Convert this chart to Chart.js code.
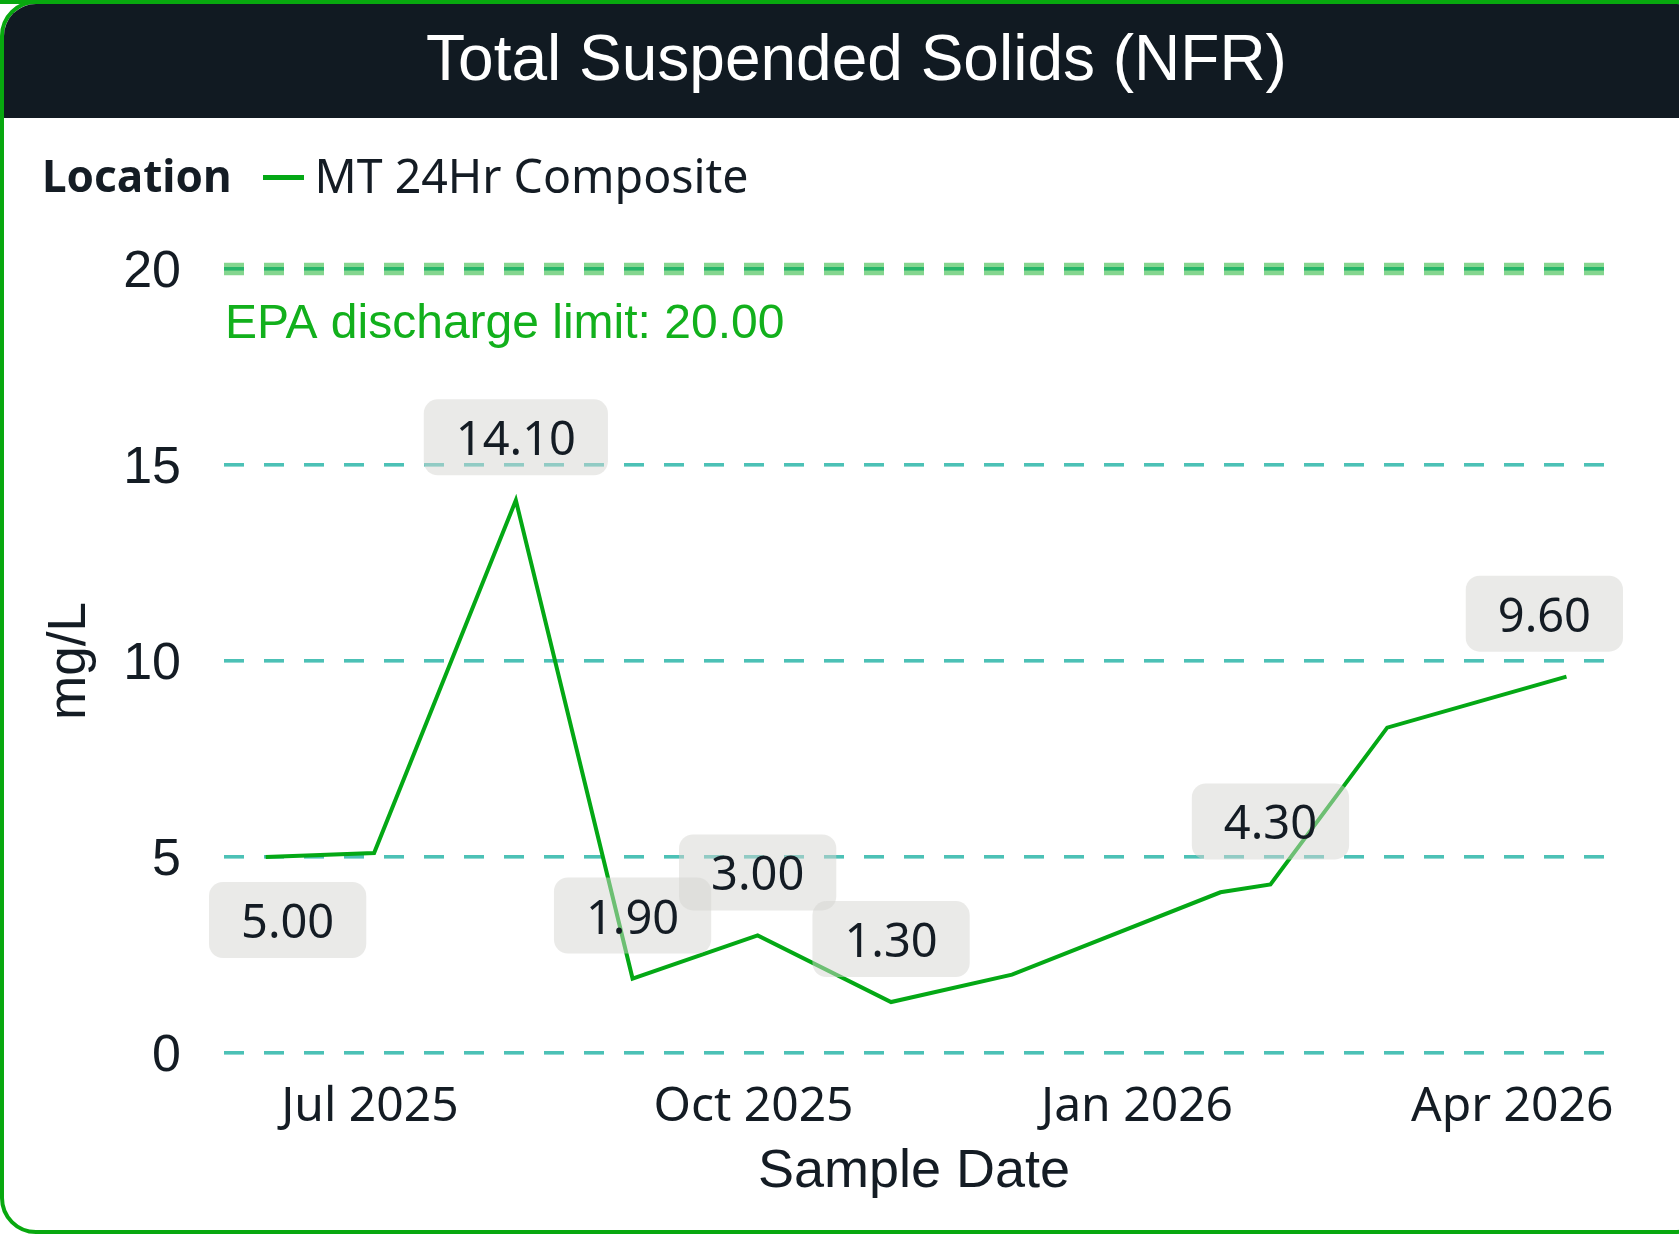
<!DOCTYPE html>
<html>
<head>
<meta charset="utf-8">
<script src="https://cdn.jsdelivr.net/npm/chart.js@4.4.1/dist/chart.umd.min.js"></script>
<style>
  html, body { margin: 0; padding: 0; background: #fff; width: 1679px; height: 1234px; overflow: hidden; }
  #card { position: absolute; left: 0; top: 0; width: 1713px; height: 1234px; box-sizing: border-box;
          border: 4px solid #08a80f; border-radius: 36px; overflow: hidden; background: #fff; }
  #topbar { position: absolute; left: 0; top: 0; width: 1679px; height: 4px; background: #08a80f; }
  #chartWrap { position: absolute; left: -4px; top: -4px; width: 1679px; height: 1234px; }
  #header { position: absolute; left: -4px; top: 0; width: 1713px; height: 114px; background: #111a22; color: #fff;
            font-family: "Liberation Sans", Arial, sans-serif; font-size: 64px; text-align: center; line-height: 108px; }
  #legend { position: absolute; left: 38px; top: 144px; height: 54px; display: flex; align-items: center;
            font-family: "Noto Sans", sans-serif; color: #141c24; font-size: 46.5px; }
  #legend .ttl { font-weight: bold; font-size: 44px; margin-right: 31px; }
  #legend .swatch { display: inline-block; width: 41px; height: 5px; margin-right: 11px; margin-top: 5px; }
</style>
</head>
<body>
<div id="card">
  <div id="chartWrap"><canvas id="c" width="1679" height="1234"></canvas></div>
  <div id="header">Total Suspended Solids (NFR)</div>
  <div id="legend"></div>
</div>
<div id="topbar"></div>
<script>
// ---- data ----
const chartTitle = 'Total Suspended Solids (NFR)';
const legendTitle = 'Location';
const seriesLabel = 'MT 24Hr Composite';
const sampleDates = ['2025-06-06', '2025-07-02', '2025-08-05', '2025-09-02', '2025-10-02', '2025-11-03',
                     '2025-12-02', '2026-01-21', '2026-02-02', '2026-03-02', '2026-04-14'];
const tssValues   = [5.00, 5.10, 14.10, 1.90, 3.00, 1.30, 2.00, 4.10, 4.30, 8.30, 9.60];
const labelShown  = [true, false, true, true, true, true, false, false, true, false, true];
const labelBelow  = [true, false, false, false, false, false, false, false, false, false, false];
const yTickValues = [0, 5, 10, 15, 20];
const xTickDates  = ['2025-07-01', '2025-10-01', '2026-01-01', '2026-04-01'];
const xTickLabels = ['Jul 2025', 'Oct 2025', 'Jan 2026', 'Apr 2026'];
const xRangeStart = '2025-05-27';
const xRangeEnd   = '2026-04-23';
const epaLimit = 20;
const epaLabel = 'EPA discharge limit: ';
const yAxisTitle = 'mg/L';
const xAxisTitle = 'Sample Date';

// ---- styles ----
const LINE_COLOR = '#04a815';
const GRID_COLOR = '#4cc1b6';
const TEXT_COLOR = '#141c24';
const toMs = d => Date.parse(d + 'T00:00:00Z');

document.getElementById('header').textContent = chartTitle;
const lg = document.getElementById('legend');
lg.innerHTML = '<span class="ttl"></span><span class="swatch"></span><span class="lab"></span>';
lg.querySelector('.ttl').textContent = legendTitle;
lg.querySelector('.lab').textContent = seriesLabel;
lg.querySelector('.swatch').style.background = LINE_COLOR;

const limitPlugin = {
  id: 'limitLine',
  beforeDatasetsDraw(chart) {
    const {ctx, chartArea, scales} = chart;
    const y = scales.y.getPixelForValue(epaLimit);
    ctx.save();
    ctx.strokeStyle = 'rgba(0,170,20,0.48)';
    ctx.lineWidth = 12.5;
    ctx.setLineDash([20, 20]);
    ctx.beginPath();
    ctx.moveTo(chartArea.left, y);
    ctx.lineTo(chartArea.right, y);
    ctx.stroke();
    ctx.setLineDash([]);
    ctx.fillStyle = '#12b01c';
    ctx.font = '48px "Liberation Sans", Arial, sans-serif';
    ctx.textAlign = 'left';
    ctx.textBaseline = 'alphabetic';
    ctx.fillText(epaLabel + epaLimit.toFixed(2), chartArea.left + 1, y + 69);
    ctx.restore();
  }
};

const valueLabelPlugin = {
  id: 'valueLabels',
  afterDatasetsDraw(chart) {
    const {ctx, chartArea} = chart;
    const meta = chart.getDatasetMeta(0);
    ctx.save();
    ctx.font = '47px "Noto Sans", sans-serif';
    meta.data.forEach((pt, i) => {
      if (!labelShown[i]) return;
      const text = tssValues[i].toFixed(2);
      const w = ctx.measureText(text).width + 64;
      const h = 76;
      let cx = pt.x;
      const cy = pt.y + (labelBelow[i] ? 63 : -63);
      cx = Math.max(cx, chartArea.left - 15 + w / 2);
      cx = Math.min(cx, chartArea.right + 19 - w / 2);
      ctx.fillStyle = 'rgba(214,214,210,0.5)';
      ctx.beginPath();
      ctx.roundRect(cx - w / 2, cy - h / 2, w, h, 14);
      ctx.fill();
      ctx.fillStyle = TEXT_COLOR;
      ctx.textAlign = 'center';
      ctx.textBaseline = 'alphabetic';
      ctx.fillText(text, cx, cy + 18);
    });
    ctx.restore();
  }
};

new Chart(document.getElementById('c'), {
  type: 'line',
  data: {
    datasets: [{
      label: seriesLabel,
      data: sampleDates.map((d, i) => ({x: toMs(d), y: tssValues[i]})),
      borderColor: LINE_COLOR,
      backgroundColor: LINE_COLOR,
      borderWidth: 4,
      pointRadius: 0,
      tension: 0,
      fill: false
    }]
  },
  options: {
    responsive: false,
    animation: false,
    layout: { padding: { top: 269, right: 75, left: 0, bottom: 0 } },
    plugins: { legend: { display: false }, tooltip: { enabled: false }, title: { display: false } },
    scales: {
      x: {
        type: 'linear',
        min: toMs(xRangeStart),
        max: toMs(xRangeEnd),
        afterFit(s) { s.height = 181; },
        afterBuildTicks(s) { s.ticks = xTickDates.map(d => ({value: toMs(d)})); },
        grid: { display: false, drawTicks: false },
        border: { display: false },
        ticks: {
          autoSkip: false, maxRotation: 0, padding: 26, color: TEXT_COLOR,
          font: { family: '"Noto Sans", sans-serif', size: 48 },
          callback: (v, i) => xTickLabels[i]
        },
        title: { display: true, text: xAxisTitle, color: TEXT_COLOR,
                 font: { family: '"Liberation Sans", Arial, sans-serif', size: 54 },
                 padding: { top: 0, bottom: 29 } }
      },
      y: {
        min: 0, max: 20,
        afterFit(s) { s.width = 224; },
        afterBuildTicks(s) { s.ticks = yTickValues.map(v => ({value: v})); },
        grid: { color: GRID_COLOR, lineWidth: 3.6, drawTicks: false, borderDash: [20, 20] },
        border: { display: false, dash: [20, 20] },
        ticks: { padding: 43, color: TEXT_COLOR,
                 font: { family: '"Liberation Sans", Arial, sans-serif', size: 52, lineHeight: '8px' },
                 callback: v => ['', String(v)] },
        title: { display: true, text: yAxisTitle, color: TEXT_COLOR,
                 font: { family: '"Liberation Sans", Arial, sans-serif', size: 53 },
                 padding: { top: 39, bottom: 0 } }
      }
    }
  },
  plugins: [limitPlugin, valueLabelPlugin]
});
</script>
</body>
</html>
